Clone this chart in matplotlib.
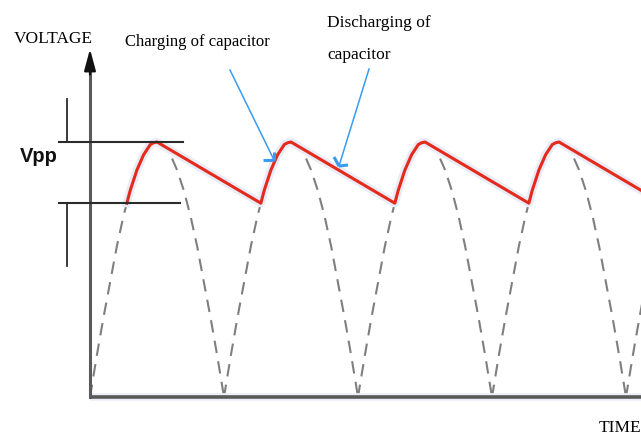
import matplotlib
matplotlib.use("Agg")
import matplotlib.pyplot as plt
import matplotlib.patheffects as pe
from matplotlib.lines import Line2D
import numpy as np

# one half-cycle of the rectified input (t in half-periods)
arc_t = [0.00, 0.05, 0.10, 0.15, 0.20, 0.25, 0.30, 0.35, 0.40, 0.45, 0.475, 0.50,
         0.525, 0.55, 0.60, 0.65, 0.70, 0.75, 0.80, 0.85, 0.90, 0.95, 1.00]
arc_v = [0.00, 0.16, 0.31, 0.45, 0.59, 0.71, 0.81, 0.89, 0.95, 0.99, 0.997, 1.00,
         0.997, 0.99, 0.95, 0.89, 0.81, 0.71, 0.59, 0.45, 0.31, 0.16, 0.00]
arc_starts = [0, 1, 2, 3, 4]

# one charge/discharge cycle of the filtered output (red)
red_t = [0.275, 0.30, 0.325, 0.35, 0.375, 0.40, 0.425, 0.45, 0.475, 0.50, 1.275]
red_v = [0.76, 0.81, 0.85, 0.89, 0.92, 0.95, 0.97, 0.99, 0.997, 1.00, 0.76]
red_cycles = [0, 1, 2, 3]

peak_v = 1.00
ripple_min_v = 0.76

W, H = 641, 435
# layout: pixel position of t=0 / v=0 and scale
X0, XS = 90, 134
Y0, YS = 398, 255

fig = plt.figure(figsize=(W / 100, H / 100), dpi=100)
ax = fig.add_axes([0, 0, 1, 1])
ax.set_xlim(-X0 / XS, (W - X0) / XS)
ax.set_ylim(-(H - Y0) / YS, Y0 / YS)
ax.axis("off")

def fx(px):
    return px / W

def fy(py):
    return 1 - py / H

def px2data(px, py):
    return (px - X0) / XS, (Y0 - py) / YS

# dashed input arcs
for k in arc_starts:
    ax.plot(np.array(arc_t) + k, arc_v, color="#7f7f7f", lw=1.5,
            dashes=(6, 4), zorder=2)

# red ripple output
rt, rv = [], []
for k in red_cycles:
    rt += [t + k for t in red_t]
    rv += red_v
ax.plot(rt, rv, color="#e42a1a", lw=2.2, zorder=3, solid_joinstyle="round",
        path_effects=[pe.Stroke(linewidth=6, foreground="#e9ebf7"), pe.Normal()])

# axes
ax.plot([0, 5], [0, 0], color="#5a5a5a", lw=2.6, zorder=4, solid_capstyle="butt",
        path_effects=[pe.Stroke(linewidth=5.5, foreground="#eceef8"), pe.Normal()])
top = px2data(0, 50)[1]
ax.plot([0, 0], [0, top - 0.05], color="#5a5a5a", lw=2.2, zorder=4)
ax.annotate("", xy=(0, top), xytext=(0, top - 0.1),
            arrowprops=dict(arrowstyle="-|>,head_length=1.3,head_width=0.35",
                            color="#111111", lw=1.6, shrinkA=0, shrinkB=0), zorder=4)

# Vpp markers
lx0, _ = px2data(59, 0)
lx1, _ = px2data(183, 0)
lx1b, _ = px2data(180, 0)
ax.plot([lx0, lx1], [peak_v, peak_v], color="#2b2b2b", lw=1.5, zorder=5)
ax.plot([lx0, lx1b], [ripple_min_v, ripple_min_v], color="#2b2b2b", lw=1.5, zorder=5)
vx, vtop = px2data(67, 100)
_, vbot = px2data(67, 267)
ax.plot([vx, vx], [peak_v, vtop], color="#2b2b2b", lw=1.3, zorder=5)
ax.plot([vx, vx], [ripple_min_v, vbot], color="#2b2b2b", lw=1.3, zorder=5)
fig.text(fx(20), fy(162), "Vpp", fontsize=14.5, fontweight="bold",
         family="Liberation Sans", color="#111111", va="baseline")

# labels
serif = "Liberation Serif"
fig.text(fx(14), fy(43), "VOLTAGE", fontsize=12.5, family=serif, va="baseline")
fig.text(fx(641), fy(432), "TIME", fontsize=12.5, family=serif, va="baseline", ha="right")
fig.text(fx(125), fy(46), "Charging of capacitor", fontsize=12, family=serif, va="baseline")
fig.text(fx(327), fy(27), "Discharging of", fontsize=12.5, family=serif, va="baseline")
fig.text(fx(327), fy(59), "capacitor", fontsize=12.5, family=serif, va="baseline")

# blue pointer arrows
blue = "#3a9cf0"
def pointer(tail, tip, barbs):
    fig.add_artist(Line2D([fx(tail[0]), fx(tip[0])], [fy(tail[1]), fy(tip[1])],
                          color=blue, lw=1.1, zorder=6))
    for b in barbs:
        fig.add_artist(Line2D([fx(tip[0]), fx(b[0])], [fy(tip[1]), fy(b[1])],
                              color=blue, lw=2.2, zorder=6, solid_capstyle="butt"))

pointer((230, 71), (274, 161), [(263, 161), (274, 153)])
pointer((369, 70), (339, 167), [(348, 166), (334, 158)])

fig.savefig("out.png", dpi=100)
